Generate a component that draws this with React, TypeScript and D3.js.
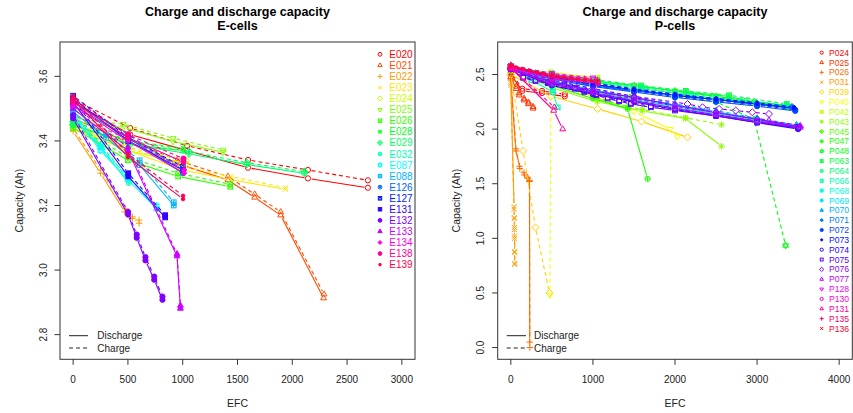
import React from 'react';
import * as d3 from 'd3';

type Pt = [number, number];

// ---------------- E-cells ----------------
const eNames = ['E020','E021','E022','E023','E024','E025','E026','E028','E029','E032','E087','E088','E126','E127','E131','E132','E133','E134','E138','E139'];

const eDischarge: Pt[][] = [
  [[0,3.52],[520,3.42],[1040,3.37],[1596,3.317],[2143,3.284],[2690,3.255]],
  [[0,3.47],[470,3.40],[948,3.33],[1413,3.279],[1657,3.225],[1894,3.17],[2286,2.913]],
  [[0,3.43],[250,3.30],[471,3.18],[540,3.16],[602,3.145]],
  [[0,3.45],[500,3.37],[1000,3.31],[1440,3.28],[1937,3.25]],
  [[0,3.44],[500,3.37],[1030,3.33]],
  [[0,3.46],[457,3.442],[912,3.398],[1368,3.365]],
  [[0,3.44],[500,3.34],[958,3.29],[1434,3.258]],
  [[0,3.45],[500,3.39],[1003,3.37]],
  [[0,3.45],[520,3.39],[1057,3.36],[1584,3.327],[2110,3.30]],
  [[0,3.47],[250,3.38],[507,3.27]],
  [[0,3.48],[250,3.37],[500,3.28],[760,3.19]],
  [[0,3.49],[300,3.41],[607,3.325],[918,3.20]],
  [[0,3.51],[500,3.41],[1003,3.30]],
  [[0,3.53],[505,3.40],[1000,3.31]],
  [[0,3.52],[503,3.29],[840,3.163]],
  [[0,3.47],[501,3.172],[580,3.10],[660,3.03],[740,2.97],[815,2.908]],
  [[0,3.50],[500,3.37],[948,3.043],[979,2.881]],
  [[0,3.51],[500,3.40],[1012,3.30]],
  [[0,3.52],[500,3.41],[1007,3.335]],
  [[0,3.53],[501,3.35],[1003,3.22]],
];

const eCharge: Pt[][] = [
  [[0,3.53],[520,3.44],[1040,3.385],[1596,3.341],[2143,3.31],[2690,3.278]],
  [[0,3.48],[470,3.41],[948,3.34],[1413,3.29],[1657,3.235],[1894,3.18],[2290,2.925]],
  [[0,3.44],[250,3.31],[480,3.19],[540,3.165],[602,3.155]],
  [[0,3.46],[500,3.38],[1000,3.32],[1440,3.29],[1937,3.255]],
  [[0,3.45],[500,3.38],[1030,3.34]],
  [[0,3.47],[457,3.452],[912,3.408],[1368,3.372]],
  [[0,3.45],[500,3.35],[958,3.30],[1434,3.266]],
  [[0,3.46],[500,3.40],[1003,3.378]],
  [[0,3.46],[520,3.40],[1057,3.367],[1584,3.333],[2110,3.305]],
  [[0,3.48],[250,3.39],[507,3.28]],
  [[0,3.49],[250,3.38],[500,3.29],[760,3.20]],
  [[0,3.50],[300,3.42],[607,3.34],[918,3.21]],
  [[0,3.52],[500,3.42],[1003,3.31]],
  [[0,3.54],[505,3.41],[1000,3.32]],
  [[0,3.53],[503,3.30],[840,3.17]],
  [[0,3.48],[501,3.18],[580,3.11],[660,3.04],[740,2.98],[815,2.918]],
  [[0,3.51],[500,3.38],[948,3.05],[979,2.89]],
  [[0,3.52],[500,3.41],[1012,3.31]],
  [[0,3.53],[500,3.42],[1007,3.345]],
  [[0,3.54],[501,3.36],[1003,3.23]],
];

const eXTicks = [0, 500, 1000, 1500, 2000, 2500, 3000];
const eYTicks = [2.8, 3.0, 3.2, 3.4, 3.6];

// ---------------- P-cells ----------------
const pNames = ['P024','P025','P026','P031','P039','P040','P042','P043','P045','P047','P048','P063','P064','P066','P068','P069','P070','P071','P072','P073','P074','P075','P076','P077','P128','P130','P131','P135','P136'];

const pDischarge: Pt[][] = [
  [[0,2.50],[140,2.35],[380,2.33],[657,2.30]],
  [[0,2.48],[65,2.37],[101,2.31],[162,2.265],[215,2.23],[271,2.19]],
  [[0,2.45],[60,1.82],[105,1.66],[160,1.60],[200,1.56],[228,1.53],[230,0.05]],
  [[0,2.40],[40,1.29],[42,1.19],[44,1.10],[45,1.02],[47,0.87],[48,0.76]],
  [[0,2.50],[490,2.30],[1058,2.185],[1593,2.07],[2152,1.925]],
  [[0,2.55],[490,2.42],[1000,2.30],[1500,2.16],[1941,2.0],[2030,1.93]],
  [[0,2.56],[490,2.52],[1054,2.47]],
  [[0,2.55],[500,2.38],[1054,2.25],[1601,2.167],[2128,2.097],[2566,1.843]],
  [[0,2.54],[500,2.43],[1000,2.34],[1450,2.28]],
  [[0,2.56],[500,2.40],[1000,2.28],[1423,2.185],[1666,1.545]],
  [[0,2.58],[500,2.49],[1000,2.44],[1500,2.40],[2000,2.35],[2500,2.30],[2960,2.25],[3360,2.21]],
  [[0,2.57],[500,2.50],[1050,2.44],[1585,2.39],[2132,2.34],[2659,2.30],[2873,2.26],[3360,2.22]],
  [[0,2.56],[500,2.49],[1000,2.43],[1600,2.37],[2200,2.31],[2800,2.25],[3350,2.20]],
  [[0,2.57],[250,2.45],[511,2.34],[571,2.20]],
  [[0,2.55],[500,2.42],[1000,2.33],[1500,2.26],[2000,2.20],[2500,2.13],[3000,2.07],[3500,2.02]],
  [[0,2.56],[500,2.43],[1000,2.34],[1500,2.27],[2000,2.21],[2500,2.14],[3000,2.08],[3490,2.017]],
  [[0,2.57],[500,2.44],[1000,2.36],[1500,2.29],[2000,2.22],[2500,2.16],[3000,2.09],[3480,2.03]],
  [[0,2.57],[500,2.47],[1000,2.40],[1500,2.35],[2000,2.31],[2500,2.27],[3000,2.23],[3425,2.20]],
  [[0,2.56],[500,2.46],[1000,2.39],[1500,2.34],[2000,2.29],[2500,2.25],[3000,2.21],[3465,2.167]],
  [[0,2.57],[500,2.48],[1000,2.41],[1500,2.36],[2000,2.31],[2500,2.27],[3000,2.23],[3450,2.19]],
  [[0,2.55],[500,2.40],[1000,2.32],[1500,2.25],[2000,2.18],[2500,2.12],[3000,2.06],[3500,2.00]],
  [[0,2.55],[150,2.47],[300,2.44],[450,2.42],[652,2.40],[780,2.37],[896,2.34],[1040,2.31],[1180,2.28],[1320,2.255],[1463,2.23],[1706,2.20],[2000,2.17],[2500,2.12],[3000,2.06],[3500,2.01]],
  [[0,2.55],[500,2.43],[1000,2.35],[1500,2.29],[2000,2.22],[2500,2.15],[3000,2.09],[3520,2.02]],
  [[0,2.55],[500,2.41],[1000,2.33],[1500,2.26],[2000,2.19],[2500,2.13],[3000,2.07],[3526,2.015]],
  [[0,2.57],[500,2.50],[1000,2.46]],
  [[0,2.56],[500,2.46],[1060,2.42]],
  [[0,2.56],[523,2.17],[632,2.00]],
  [[0,2.58],[500,2.49],[900,2.45],[1054,2.44]],
  [[0,2.57],[500,2.48],[1054,2.43]],
];

const pCharge: Pt[][] = [
  [[0,2.52],[140,2.37],[380,2.35],[657,2.32]],
  [[0,2.50],[65,2.39],[101,2.33],[162,2.28],[215,2.245],[271,2.205]],
  [[0,2.46],[65,1.80],[110,1.64],[165,1.58],[210,1.55],[226,1.52],[232,0.0]],
  [[0,2.42],[38,1.27],[41,1.18],[43,1.08],[46,1.00],[47,0.88],[49,0.77]],
  [[0,2.50],[150,1.80],[300,1.10],[470,0.50]],
  [[0,2.56],[490,2.46],[476,0.48]],
  [[0,2.57],[490,2.50],[1054,2.45]],
  [[0,2.56],[500,2.40],[1054,2.27],[1601,2.18],[2128,2.105],[2566,2.04]],
  [[0,2.55],[500,2.44],[1000,2.35],[1450,2.29]],
  [[0,2.57],[500,2.42],[1000,2.30],[1423,2.20]],
  [[0,2.58],[500,2.48],[1000,2.42],[1500,2.36],[2000,2.30],[2500,2.25],[2963,2.09],[3348,0.934]],
  [[0,2.58],[500,2.51],[1050,2.45],[1585,2.40],[2132,2.35],[2659,2.31],[3360,2.23]],
  [[0,2.57],[500,2.50],[1000,2.44],[1600,2.38],[2200,2.32],[2800,2.26],[3350,2.21]],
  [[0,2.58],[250,2.50],[490,2.47],[511,2.36]],
  [[0,2.56],[500,2.43],[1000,2.34],[1500,2.27],[2000,2.21],[2500,2.14],[3000,2.08],[3500,2.03]],
  [[0,2.57],[500,2.44],[1000,2.35],[1500,2.28],[2000,2.22],[2500,2.15],[3000,2.09],[3490,2.027]],
  [[0,2.58],[500,2.45],[1000,2.37],[1500,2.30],[2000,2.23],[2500,2.17],[3000,2.10],[3480,2.04]],
  [[0,2.58],[500,2.48],[1000,2.41],[1500,2.36],[2000,2.32],[2500,2.28],[3000,2.24],[3425,2.21]],
  [[0,2.57],[500,2.47],[1000,2.40],[1500,2.35],[2000,2.30],[2500,2.26],[3000,2.22],[3465,2.177]],
  [[0,2.58],[500,2.49],[1000,2.42],[1500,2.37],[2000,2.32],[2500,2.28],[3000,2.24],[3450,2.20]],
  [[0,2.56],[500,2.41],[1000,2.33],[1500,2.26],[2000,2.19],[2500,2.13],[3000,2.07],[3500,2.01]],
  [[0,2.56],[150,2.48],[300,2.45],[450,2.43],[652,2.41],[780,2.38],[896,2.35],[1040,2.32],[1180,2.29],[1320,2.265],[1463,2.24],[1706,2.21],[2000,2.18],[2500,2.13],[3000,2.07],[3500,2.02]],
  [[0,2.56],[500,2.45],[1000,2.37],[1500,2.30],[2152,2.23],[2335,2.20],[2537,2.185],[2740,2.17],[2942,2.154],[3145,2.139]],
  [[0,2.56],[500,2.43],[1000,2.35],[1500,2.28],[2000,2.21],[2500,2.15],[3145,2.08],[3526,2.03]],
  [[0,2.58],[500,2.51],[1000,2.47]],
  [[0,2.57],[500,2.47],[1060,2.43]],
  [[0,2.57],[530,2.20]],
  [[0,2.59],[500,2.50],[900,2.46],[1054,2.45]],
  [[0,2.58],[500,2.49],[1054,2.44]],
];

const pXTicks = [0, 1000, 2000, 3000, 4000];
const pYTicks = [0, 0.5, 1.0, 1.5, 2.0, 2.5];

const typeLabels = ['Discharge', 'Charge'];

// ----------------------------------------------------------------
const FONT = '"Liberation Sans", Arial, Helvetica, sans-serif';

function rainbow(n: number): string[] {
  return d3.range(n).map((i) => d3.hsl((i * 360) / n, 1, 0.5).formatHex());
}

function Marker({ pch, x, y, s, c }: { pch: number; x: number; y: number; s: number; c: string }) {
  const t = s * 1.3;
  const triUp = `${x},${y - t} ${x + t * 0.866},${y + t * 0.5} ${x - t * 0.866},${y + t * 0.5}`;
  const triDn = `${x},${y + t} ${x + t * 0.866},${y - t * 0.5} ${x - t * 0.866},${y - t * 0.5}`;
  const dm = s * 1.35;
  const diamond = `${x},${y - dm} ${x + dm},${y} ${x},${y + dm} ${x - dm},${y}`;
  const q = s * 0.9;
  const pl = s * 1.25;
  const plus = `M${x - pl},${y}H${x + pl}M${x},${y - pl}V${y + pl}`;
  const cr = s * 0.95;
  const cross = `M${x - cr},${y - cr}L${x + cr},${y + cr}M${x - cr},${y + cr}L${x + cr},${y - cr}`;
  const sqPlus = `M${x - q},${y}H${x + q}M${x},${y - q}V${y + q}`;
  const sqCross = `M${x - q},${y - q}L${x + q},${y + q}M${x - q},${y + q}L${x + q},${y - q}`;
  const dmPlus = `M${x - dm},${y}H${x + dm}M${x},${y - dm}V${y + dm}`;
  const cPlus = `M${x - s},${y}H${x + s}M${x},${y - s}V${y + s}`;
  const ci = s * 0.707;
  const cCross = `M${x - ci},${y - ci}L${x + ci},${y + ci}M${x - ci},${y + ci}L${x + ci},${y - ci}`;
  const sqTri = `${x},${y - q} ${x + q},${y + q} ${x - q},${y + q}`;
  let el: React.ReactNode = null;
  switch (pch) {
    case 1: case 21: el = <circle cx={x} cy={y} r={s} />; break;
    case 2: case 24: el = <polygon points={triUp} />; break;
    case 3: el = <path d={plus} />; break;
    case 4: el = <path d={cross} />; break;
    case 5: case 23: el = <polygon points={diamond} />; break;
    case 6: case 25: el = <polygon points={triDn} />; break;
    case 7: el = <g><rect x={x - q} y={y - q} width={2 * q} height={2 * q} /><path d={sqCross} /></g>; break;
    case 8: el = <g><path d={plus} /><path d={cross} /></g>; break;
    case 9: el = <g><polygon points={diamond} /><path d={dmPlus} /></g>; break;
    case 10: el = <g><circle cx={x} cy={y} r={s} /><path d={cPlus} /></g>; break;
    case 11: el = <g><polygon points={triUp} /><polygon points={triDn} /></g>; break;
    case 12: el = <g><rect x={x - q} y={y - q} width={2 * q} height={2 * q} /><path d={sqPlus} /></g>; break;
    case 13: el = <g><circle cx={x} cy={y} r={s} /><path d={cCross} /></g>; break;
    case 14: el = <g><rect x={x - q} y={y - q} width={2 * q} height={2 * q} /><polygon points={sqTri} /></g>; break;
    case 15: el = <rect x={x - q} y={y - q} width={2 * q} height={2 * q} fill={c} />; break;
    case 16: el = <circle cx={x} cy={y} r={s} fill={c} />; break;
    case 17: el = <polygon points={triUp} fill={c} />; break;
    case 18: { const d2 = s * 1.05; el = <polygon points={`${x},${y - d2} ${x + d2},${y} ${x},${y + d2} ${x - d2},${y}`} fill={c} />; break; }
    case 19: el = <circle cx={x} cy={y} r={s} fill={c} />; break;
    case 20: el = <circle cx={x} cy={y} r={s * 0.67} fill={c} />; break;
    case 22: el = <rect x={x - q} y={y - q} width={2 * q} height={2 * q} />; break;
    default: el = <circle cx={x} cy={y} r={s} />;
  }
  return <g stroke={c} fill="none" strokeWidth={1}>{el}</g>;
}

function segments(pts: Pt[], sx: d3.ScaleLinear<number, number>, sy: d3.ScaleLinear<number, number>, gap: number) {
  const out: [number, number, number, number][] = [];
  for (let i = 1; i < pts.length; i++) {
    const x0 = sx(pts[i - 1][0]), y0 = sy(pts[i - 1][1]);
    const x1 = sx(pts[i][0]), y1 = sy(pts[i][1]);
    const d = Math.hypot(x1 - x0, y1 - y0);
    if (d <= 2 * gap) continue;
    const ux = (x1 - x0) / d, uy = (y1 - y0) / d;
    out.push([x0 + ux * gap, y0 + uy * gap, x1 - ux * gap, y1 - uy * gap]);
  }
  return out;
}

interface PanelProps {
  id: string;
  title2: string;
  left: number; right: number; top: number; bottom: number;
  xDomain: [number, number]; yDomain: [number, number];
  xTicks: number[]; yTicks: number[]; yFmt: (v: number) => string;
  names: string[]; dis: Pt[][]; chg: Pt[][];
  legX: number; legTextX: number; legY0: number; legStep: number; legFont: number; legS: number;
  pchOf: (i: number) => number;
  ltX0: number; ltX1: number; ltTextX: number;
}

function Panel(p: PanelProps) {
  const sx = d3.scaleLinear().domain(p.xDomain).range([p.left, p.right]);
  const sy = d3.scaleLinear().domain(p.yDomain).range([p.bottom, p.top]);
  const colors = rainbow(p.names.length);
  const cx = (p.left + p.right) / 2;
  const cy = (p.top + p.bottom) / 2;
  const ms = 2.6;
  const gap = 3.6;
  return (
    <g>
      <defs>
        <clipPath id={p.id}>
          <rect x={p.left} y={p.top} width={p.right - p.left} height={p.bottom - p.top} />
        </clipPath>
      </defs>
      <text x={cx} y={15.5} textAnchor="middle" fontFamily={FONT} fontWeight="bold" fontSize={12.5} fill="#000">Charge and discharge capacity</text>
      <text x={cx} y={29.5} textAnchor="middle" fontFamily={FONT} fontWeight="bold" fontSize={12.5} fill="#000">{p.title2}</text>

      <g clipPath={`url(#${p.id})`}>
        {p.names.map((n, i) => {
          const c = colors[i];
          const pch = p.pchOf(i);
          const dSeg = segments(p.dis[i], sx, sy, gap);
          const cSeg = segments(p.chg[i], sx, sy, gap);
          return (
            <g key={n}>
              {dSeg.map((s, k) => <line key={'d' + k} x1={s[0]} y1={s[1]} x2={s[2]} y2={s[3]} stroke={c} strokeWidth={1.1} />)}
              {p.dis[i].map((d, k) => <Marker key={'dm' + k} pch={pch} x={sx(d[0])} y={sy(d[1])} s={ms} c={c} />)}
              {cSeg.map((s, k) => <line key={'c' + k} x1={s[0]} y1={s[1]} x2={s[2]} y2={s[3]} stroke={c} strokeWidth={1.1} strokeDasharray="4,3" />)}
              {p.chg[i].map((d, k) => <Marker key={'cm' + k} pch={pch} x={sx(d[0])} y={sy(d[1])} s={ms} c={c} />)}
            </g>
          );
        })}
      </g>

      <rect x={p.left} y={p.top} width={p.right - p.left} height={p.bottom - p.top} fill="none" stroke="#333" strokeWidth={1} />

      {p.xTicks.map((t) => (
        <g key={'xt' + t}>
          <line x1={sx(t)} x2={sx(t)} y1={p.bottom} y2={p.bottom + 5.5} stroke="#333" />
          <text x={sx(t)} y={382.5} textAnchor="middle" fontFamily={FONT} fontSize={10} fill="#222">{t}</text>
        </g>
      ))}
      {p.yTicks.map((t) => (
        <g key={'yt' + t}>
          <line x1={p.left - 5.5} x2={p.left} y1={sy(t)} y2={sy(t)} stroke="#333" />
          <text transform={`translate(${p.left - 13.5},${sy(t)}) rotate(-90)`} textAnchor="middle" fontFamily={FONT} fontSize={10} fill="#222">{p.yFmt(t)}</text>
        </g>
      ))}
      <text x={cx} y={407} textAnchor="middle" fontFamily={FONT} fontSize={10.5} fill="#222">EFC</text>
      <text transform={`translate(${p.left - 37.5},${cy}) rotate(-90)`} textAnchor="middle" fontFamily={FONT} fontSize={10.5} fill="#222">Capacity (Ah)</text>

      {p.names.map((n, i) => {
        const y = p.legY0 + i * p.legStep;
        return (
          <g key={'lg' + n}>
            <Marker pch={p.pchOf(i)} x={p.legX} y={y} s={p.legS} c={colors[i]} />
            <text x={p.legTextX} y={y} dy="0.36em" fontFamily={FONT} fontSize={p.legFont} fill={colors[i]}>{n}</text>
          </g>
        );
      })}

      {typeLabels.map((lab, i) => {
        const y = 335.7 + i * 12.3;
        return (
          <g key={lab}>
            <line x1={p.ltX0} x2={p.ltX1} y1={y} y2={y} stroke="#222" strokeWidth={1} strokeDasharray={i === 1 ? '4,3' : undefined} />
            <text x={p.ltTextX} y={y} dy="0.36em" fontFamily={FONT} fontSize={10} fill="#222">{lab}</text>
          </g>
        );
      })}
    </g>
  );
}

export default function App() {
  return (
    <svg width={853} height={413} style={{ position: 'absolute', left: 0, top: 0, background: '#fff' }}>
      <rect x={0} y={0} width={853} height={413} fill="#fff" />
      <Panel
        id="clipE" title2="E-cells"
        left={60} right={415} top={42} bottom={359.3}
        xDomain={[-120, 3120]} yDomain={[2.7236, 3.7064]}
        xTicks={eXTicks} yTicks={eYTicks} yFmt={(v) => v.toFixed(1)}
        names={eNames} dis={eDischarge} chg={eCharge}
        legX={380} legTextX={389.3} legY0={54.3} legStep={11.07} legFont={10} legS={1.9}
        pchOf={(i) => i + 1}
        ltX0={69} ltX1={88} ltTextX={97.3}
      />
      <Panel
        id="clipP" title2="P-cells"
        left={497.7} right={852.3} top={42} bottom={359.3}
        xDomain={[-160, 4160]} yDomain={[-0.1076, 2.7976]}
        xTicks={pXTicks} yTicks={pYTicks} yFmt={(v) => v.toFixed(1)}
        names={pNames} dis={pDischarge} chg={pCharge}
        legX={821.7} legTextX={829} legY0={52.7} legStep={9.85} legFont={8.6} legS={1.6}
        pchOf={(i) => (i % 25) + 1}
        ltX0={506.7} ltX1={526} ltTextX={534}
      />
    </svg>
  );
}
